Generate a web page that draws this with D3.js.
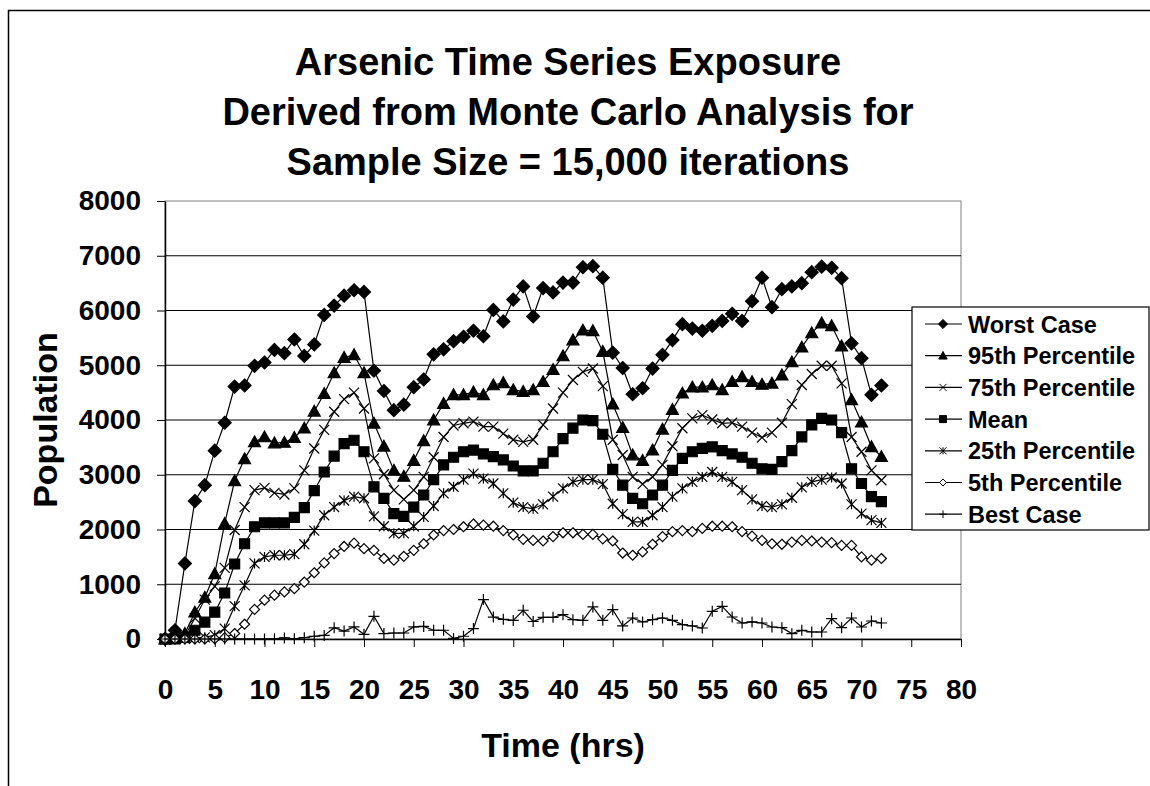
<!DOCTYPE html>
<html>
<head>
<meta charset="utf-8">
<script src="https://cdn.jsdelivr.net/npm/d3@7"></script>
<style>
	body { margin: 0; background: #fff; }
	svg { display: block; font-family: 'Liberation Sans', Arial, sans-serif; font-weight: bold; }
</style>
</head>
<body>
<svg id="chart" width="1150" height="786"></svg>
<script>
let hours = d3.range(0, 73)

let worst = [0, 160, 1380, 2520, 2810, 3440, 3950, 4610, 4630, 4990,
	5050, 5280, 5220, 5470, 5170, 5380, 5920, 6090, 6270, 6370,
	6340, 4900, 4530, 4180, 4280, 4600, 4740, 5200, 5290, 5440,
	5520, 5630, 5530, 6010, 5800, 6200, 6440, 5890, 6410, 6330,
	6510, 6510, 6790, 6810, 6600, 5230, 4950, 4470, 4580, 4940,
	5190, 5460, 5750, 5670, 5630, 5720, 5810, 5940, 5810, 6170,
	6600, 6060, 6390, 6440, 6500, 6700, 6800, 6780, 6590, 5400,
	5130, 4460, 4630]

let p95 = [0, 30, 100, 490, 760, 1190, 2110, 2890, 3290, 3600,
	3690, 3580, 3590, 3680, 3850, 4160, 4480, 4860, 5140, 5190,
	4860, 3940, 3520, 3080, 2970, 3260, 3620, 4000, 4300, 4460,
	4460, 4510, 4460, 4640, 4680, 4550, 4520, 4550, 4700, 4920,
	5170, 5460, 5640, 5630, 5250, 4290, 3860, 3360, 3260, 3450,
	3830, 4190, 4490, 4600, 4600, 4640, 4550, 4700, 4790, 4700,
	4650, 4670, 4820, 5060, 5330, 5590, 5770, 5720, 5350, 4370,
	3960, 3510, 3330]

let p75 = [0, 10, 60, 380, 720, 960, 1300, 1990, 2410, 2720,
	2760, 2670, 2640, 2750, 3080, 3480, 3820, 4150, 4380, 4500,
	4210, 3300, 3010, 2720, 2550, 2720, 2960, 3320, 3690, 3900,
	3940, 3970, 3880, 3880, 3750, 3640, 3600, 3640, 3910, 4210,
	4500, 4730, 4880, 4940, 4620, 3640, 3360, 2960, 2830, 2960,
	3180, 3520, 3850, 4030, 4090, 4010, 3940, 3950, 3880, 3770,
	3680, 3770, 3950, 4290, 4640, 4840, 4990, 4990, 4670, 3690,
	3420, 3080, 2900]

let mean = [0, 0, 30, 160, 310, 490, 840, 1370, 1740, 2050,
	2120, 2120, 2120, 2220, 2400, 2710, 3050, 3340, 3570, 3630,
	3420, 2780, 2570, 2290, 2240, 2410, 2630, 2910, 3180, 3320,
	3420, 3450, 3380, 3330, 3270, 3160, 3070, 3070, 3210, 3420,
	3660, 3850, 4000, 3990, 3740, 3100, 2810, 2570, 2470, 2630,
	2810, 3080, 3300, 3420, 3480, 3510, 3440, 3380, 3320, 3210,
	3110, 3100, 3240, 3440, 3690, 3910, 4030, 4000, 3770, 3110,
	2840, 2600, 2510]

let p25 = [0, 0, 5, 15, 30, 70, 190, 600, 980, 1380,
	1500, 1530, 1530, 1550, 1730, 1980, 2260, 2410, 2530, 2600,
	2570, 2240, 2060, 1930, 1930, 2060, 2230, 2430, 2660, 2780,
	2910, 3020, 2930, 2840, 2660, 2490, 2410, 2380, 2460, 2600,
	2750, 2870, 2910, 2910, 2830, 2470, 2280, 2140, 2140, 2260,
	2410, 2600, 2750, 2870, 2960, 3050, 2960, 2870, 2720, 2550,
	2430, 2410, 2460, 2580, 2770, 2870, 2910, 2950, 2840, 2460,
	2290, 2170, 2120]

let p5 = [0, 0, 0, 0, 0, 5, 25, 100, 270, 540,
	710, 800, 860, 920, 1040, 1210, 1390, 1560, 1690, 1750,
	1650, 1620, 1470, 1440, 1510, 1620, 1740, 1900, 1980, 2000,
	2050, 2100, 2080, 2060, 1980, 1900, 1820, 1800, 1790, 1870,
	1940, 1940, 1910, 1910, 1830, 1790, 1570, 1530, 1590, 1730,
	1870, 1960, 1980, 1960, 2020, 2060, 2060, 2050, 1960, 1880,
	1800, 1740, 1730, 1770, 1800, 1790, 1770, 1760, 1710, 1710,
	1500, 1440, 1470]

let best = [0, 0, 0, 0, 0, 0, 0, 0, 0, 0,
	0, 5, 20, 5, 25, 50, 65, 205, 145, 220,
	85, 415, 100, 110, 110, 220, 230, 160, 160, 10,
	50, 190, 720, 400, 360, 340, 525, 320, 395, 395,
	445, 353, 341, 585, 341, 536, 238, 384, 311, 353,
	384, 341, 262, 238, 201, 506, 595, 402, 292, 311,
	292, 219, 207, 98, 158, 128, 128, 372, 207, 384,
	219, 329, 292]

let seriesNames = ['Worst Case', '95th Percentile', '75th Percentile', 'Mean', '25th Percentile', '5th Percentile', 'Best Case']
let seriesValues = [worst, p95, p75, mean, p25, p5, best]
let xTicks = d3.range(0, 81, 5)
let yTicks = d3.range(0, 8001, 1000)
let titleLines = ['Arsenic Time Series Exposure', 'Derived from Monte Carlo Analysis for', 'Sample Size = 15,000 iterations']

// marker shapes, size = half width in px
let shapes = {
	diamond: { draw(c, r) { c.moveTo(0, -r); c.lineTo(r, 0); c.lineTo(0, r); c.lineTo(-r, 0); c.closePath() } },
	triangle: { draw(c, r) { c.moveTo(0, -r); c.lineTo(r, r * 0.8); c.lineTo(-r, r * 0.8); c.closePath() } },
	square: { draw(c, r) { c.rect(-r, -r, 2 * r, 2 * r) } },
	times: { draw(c, r) { c.moveTo(-r, -r); c.lineTo(r, r); c.moveTo(-r, r); c.lineTo(r, -r) } },
	star: { draw(c, r) { c.moveTo(-r, -r); c.lineTo(r, r); c.moveTo(-r, r); c.lineTo(r, -r); c.moveTo(0, -r); c.lineTo(0, r) } },
	plus: { draw(c, r) { c.moveTo(-r, 0); c.lineTo(r, 0); c.moveTo(0, -r); c.lineTo(0, r) } }
}

let markers = [
	{ type: shapes.diamond, r: 6.5, fill: '#000' },
	{ type: shapes.triangle, r: 6, fill: '#000' },
	{ type: shapes.times, r: 5, fill: 'none' },
	{ type: shapes.square, r: 5, fill: '#000' },
	{ type: shapes.star, r: 5, fill: 'none' },
	{ type: shapes.diamond, r: 5, fill: '#fff' },
	{ type: shapes.plus, r: 5.5, fill: 'none' }
]

let svg = d3.select('#chart')

// outer chart frame
svg.append('rect')
	.attr('x', 8.5).attr('y', 10.5)
	.attr('width', 1200).attr('height', 900)
	.attr('fill', 'none').attr('stroke', '#000').attr('stroke-width', 1.5)

let x = d3.scaleLinear().domain([0, 80]).range([165, 961])
let y = d3.scaleLinear().domain([0, 8000]).range([639, 201])

// plot border and gridlines
svg.append('rect')
	.attr('x', x(0)).attr('y', y(8000))
	.attr('width', x(80) - x(0)).attr('height', y(0) - y(8000))
	.attr('fill', 'none').attr('stroke', '#808080')

svg.append('g')
	.selectAll('line')
	.data(yTicks.filter(d => d > 0 && d < 8000))
	.join('line')
	.attr('x1', x(0)).attr('x2', x(80))
	.attr('y1', d => y(d)).attr('y2', d => y(d))
	.attr('stroke', '#000')

let xAxis = svg.append('g')
	.attr('transform', `translate(0,${y(0)})`)
	.call(d3.axisBottom(x).tickValues(xTicks).tickSize(8).tickPadding(32).tickSizeOuter(0))
let yAxis = svg.append('g')
	.attr('transform', `translate(${x(0)},0)`)
	.call(d3.axisLeft(y).tickValues(yTicks).tickFormat(d3.format('d')).tickSize(8).tickPadding(16).tickSizeOuter(0))

for (let ax of [xAxis, yAxis]) {
	ax.selectAll('text').attr('font-size', 28).attr('font-family', null).attr('fill', '#000')
	ax.attr('font-family', null).attr('font-size', null)
	ax.select('.domain').attr('stroke', '#000').attr('stroke-width', 1.5)
}

// series
let line = d3.line().x((d, i) => x(hours[i])).y(d => y(d))

seriesValues.forEach((vals, s) => {
	let m = markers[s]
	let g = svg.append('g')
	g.append('path')
		.attr('d', line(vals))
		.attr('fill', 'none')
		.attr('stroke', '#000')
		.attr('stroke-width', 1.2)
	g.selectAll('path.mk')
		.data(vals)
		.join('path')
		.attr('class', 'mk')
		.attr('transform', (d, i) => `translate(${x(hours[i])},${y(d)})`)
		.attr('d', d3.symbol().type(m.type).size(m.r))
		.attr('fill', m.fill)
		.attr('stroke', '#000')
		.attr('stroke-width', 1.2)
})

// legend
let legend = svg.append('g')
legend.append('rect')
	.attr('x', 912).attr('y', 307)
	.attr('width', 237).attr('height', 223)
	.attr('fill', '#fff').attr('stroke', '#000').attr('stroke-width', 1.2)

seriesNames.forEach((name, s) => {
	let cy = 324 + s * 31.7
	let m = markers[s]
	legend.append('line')
		.attr('x1', 925).attr('x2', 962)
		.attr('y1', cy).attr('y2', cy)
		.attr('stroke', '#000').attr('stroke-width', 1.2)
	legend.append('path')
		.attr('transform', `translate(943,${cy})`)
		.attr('d', d3.symbol().type(m.type).size(m.r * 0.7))
		.attr('fill', m.fill)
		.attr('stroke', '#000')
	legend.append('text')
		.attr('x', 968).attr('y', cy + 8.5)
		.attr('font-size', 23.5)
		.text(name)
})

// titles
svg.append('text')
	.attr('text-anchor', 'middle')
	.attr('font-size', 38)
	.selectAll('tspan')
	.data(titleLines)
	.join('tspan')
	.attr('x', 568)
	.attr('y', (d, i) => 75 + i * 50)
	.text(d => d)

svg.append('text')
	.attr('x', x(40)).attr('y', 757)
	.attr('text-anchor', 'middle')
	.attr('font-size', 34)
	.text('Time (hrs)')

svg.append('text')
	.attr('transform', `translate(57,${(y(0) + y(8000)) / 2}) rotate(-90)`)
	.attr('text-anchor', 'middle')
	.attr('font-size', 34)
	.text('Population')
</script>
</body>
</html>
